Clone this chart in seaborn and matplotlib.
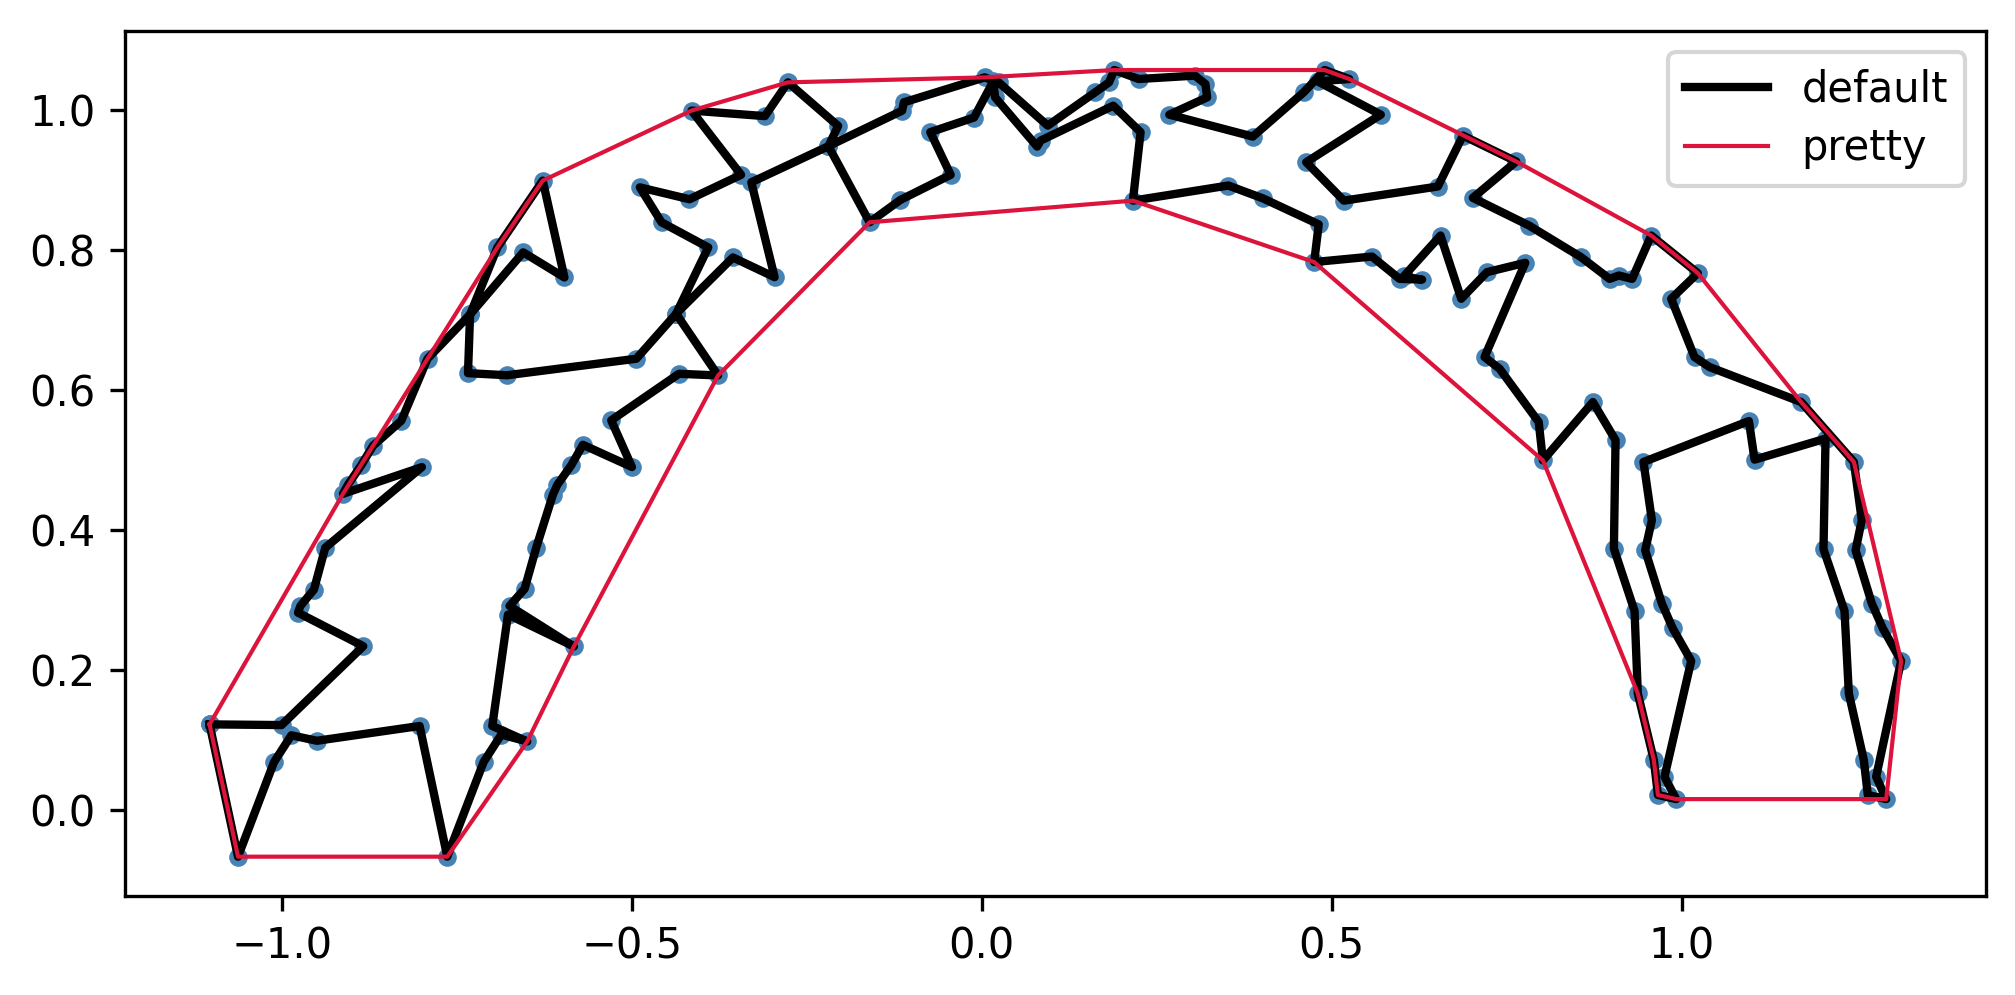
import matplotlib
matplotlib.use("Agg")
import matplotlib.pyplot as plt
import seaborn as sns

tour_x = [-1.1034,-1.0006,-.8838,-.9771,-.9736,-.9543,-.9381,-.8000,-.9128,-.9058,-.8868,-.8699,-.8295,
          -.7920,-.7312,-.6553,-.5964,-.6274,-.6922,-.7312,-.7342,-.6783,-.4937,-.4368,-.3909,-.4577,-.4887,-.4178,-.3440,
          -.4148,-.3100,-.2771,-.2053,-.2192,-.1604,-.1165,-.0446,-.0737,-.0112,.0164,.0189,.0790,.0840,.1877,.2268,
          .2158,.3521,.4012,.4813,.4748,.5574,.5968,.6290,.6025,.6553,.6849,.7216,.7764,.7182,.7397,.7956,.8016,
          .8730,.9054,.9030,.9325,.9372,.9601,.9659,.9920,.9753,1.0135,.9872,.9716,.9477,.9573,.9453,1.0959,
          1.1040,1.2054,1.2025,1.2325,1.2387,1.2601,1.2658,1.2921,1.2777,1.3134,1.2873,1.2716,1.2483,1.2572,
          1.2459,1.1706,1.0397,1.0182,.9849,1.0229,.9563,.9291,.9101,.8968,.8563,.7817,.7015,.7635,.6873,.6515,
          .5172,.4634,.5700,.4798,.5249,.4898,.4597,.3871,.2678,.3219,.3194,.3045,.2242,.1892,.1817,.1617,
          .0941,.0240,.0039,-.1114,-.1139,-.2192,-.3294,-.2961,-.3557,-.4368,-.3769,-.4328,-.5296,-.4999,-.5700,
          -.5867,-.6066,-.6128,-.6367,-.6533,-.6748,-.5829,-.6771,-.6995,-.6495,-.6866,-.7119,-.7638,-.8033,
          -.9500,-.9866,-1.0113,-1.0628,-1.1034]
tour_y = [.1227,.1217,.2343,.2822,.2918,.3152,.3750,.4901,.4519,.4647,.4926,.5205,.5562,
          .6448,.7080,.7967,.7608,.8991,.8037,.7080,.6242,.6212,.6448,.7090,.8037,.8396,.8895,.8725,.9074,
          .9991,.9912,1.0394,.9772,.9483,.8396,.8715,.9074,.9683,.9892,1.0410,1.0181,.9477,.9563,1.0061,.9683,
          .8705,.8921,.8739,.8366,.7828,.7907,.7588,.7578,.7622,.8207,.7304,.7684,.7818,.6472,.6305,.5544,.4996,
          .5829,.5285,.3737,.2848,.1668,.0718,.0219,.016,.0479,.2134,.2596,.2952,.3713,.4141,.4974,.5558,
          .5007,.5307,.3727,.2848,.1668,.0718,.0219,.016,.0479,.2134,.2596,.2952,.3713,.4141,
          .4974,.5829,.6329,.6472,.7304,.7670,.8207,.7588,.7636,.7588,.7897,.8350,.8745,.9264,.9634,.8907,
          .8705,.9254,.9933,1.0408,1.0442,1.057,1.0251,.9620,.9933,1.0180,1.0371,1.0490,1.0442,1.057,1.0394,1.0251,
          .9776,1.0394,1.0465,1.0109,.9990,.9483,.8967,.7612,.7894,.7090,.6209,.6233,.5568,.4901,.5219,
          .4926,.4647,.4509,.3750,.3162,.2918,.2339,.2795,.1204,.0983,.1081,.0689,-.0662,.1204,
          .0993,.1071,.0689,-.0662,.1227]

hull_x = [-1.1034,-.9128,-.7920,-.6922,-.6274,-.4148,-.2771,.0039,.1892,.4898,.5249,.7635,.9563,1.0229,1.1706,1.2459,
          1.3134,1.2921,.9920,.9659,.9601,.9372,.8016,.4748,.2158,-.1604,-.3769,-.5829,-.6495,-.7638,-1.0628,-1.1034]
hull_y = [.1227,.4519,.6448,.8037,.8991,.9991,1.0394,1.0465,1.057,1.057,1.0442,.9264,.8207,.7670,.5829,.4974,
          .2134,.016,.016,.0219,.0718,.1668,.4996,.7828,.8705,.8396,.6209,.2339,.0983,-.0662,-.0662,.1227]

W, H, DPI = 2015, 995, 300
fig = plt.figure(figsize=(W / DPI, H / DPI), dpi=DPI)
ax = fig.add_axes([125 / W, (H - 896) / H, (1985.7 - 125) / W, (896 - 30.7) / H])

sns.scatterplot(x=tour_x, y=tour_y, ax=ax, color="steelblue", s=20, linewidth=0, legend=False)
sns.lineplot(x=tour_x, y=tour_y, ax=ax, sort=False, estimator=None, color="black", linewidth=2, label="default")
sns.lineplot(x=hull_x, y=hull_y, ax=ax, sort=False, estimator=None, color="crimson", linewidth=1, label="pretty")
ax.legend(loc="upper right", labelspacing=0.41)
fig.savefig("out.png", dpi=DPI)
